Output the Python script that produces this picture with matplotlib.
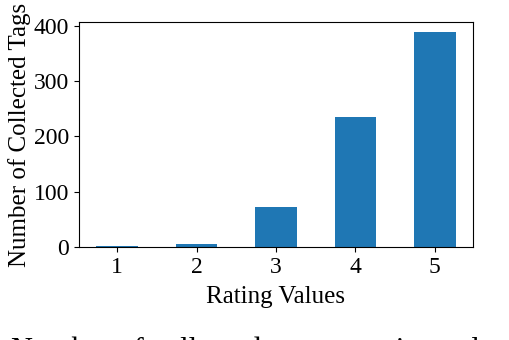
import matplotlib
matplotlib.use("Agg")
import matplotlib.pyplot as plt

ratings = ["1", "2", "3", "4", "5"]
tag_counts = [1, 5, 73, 235, 389]

plt.rcParams["font.family"] = ["Liberation Serif", "DejaVu Serif"]
plt.rcParams["font.size"] = 18

fig = plt.figure(figsize=(5.1, 3.4), dpi=100)
ax = fig.add_axes([79 / 510, 1 - 247 / 340, (473 - 79) / 510, (247 - 22) / 340])

x = range(1, len(ratings) + 1)
ax.bar(x, tag_counts, width=0.52, color="#1f77b4")
ax.set_xticks(list(x))
ax.set_xticklabels(ratings)
ax.set_yticks([0, 100, 200, 300, 400])
ax.tick_params(labelsize=17)
ax.set_xlabel("Rating Values", labelpad=6)
ax.set_ylabel("Number of Collected Tags", labelpad=2)
ax.set_xlim(0.52, 5.48)
ax.set_ylim(0, 407)

# caption of the source figure, only its top edge shows at the bottom
fig.text(0.022, -0.055, "Number of collected tags on rating values in the",
         va="baseline", ha="left", fontsize=22)

fig.savefig("out.png", dpi=100)
